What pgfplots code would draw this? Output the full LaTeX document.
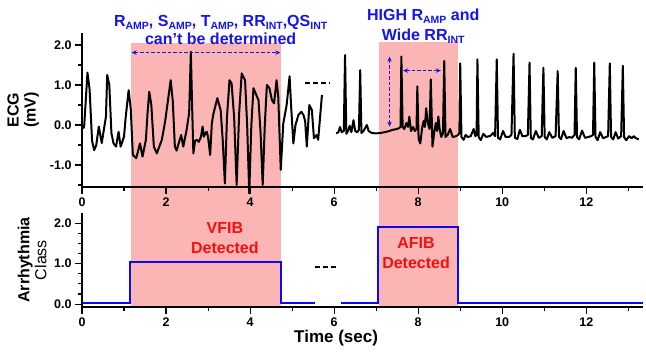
\documentclass[border=0pt]{standalone}
\usepackage{fontspec}
\setmainfont{Liberation Sans}
\usepackage{pgfplots}
\pgfplotsset{compat=1.18}
\usetikzlibrary{arrows.meta}
\definecolor{shade}{RGB}{252,181,181}
\definecolor{ablue}{RGB}{20,20,235}
\definecolor{ared}{RGB}{245,15,15}
\definecolor{lblue}{RGB}{10,10,240}
\newcommand\sub[1]{\raisebox{-0.35ex}{\fontsize{10.5}{10.5}\selectfont #1}}

\begin{document}
\begin{tikzpicture}
\useasboundingbox (-82pt,-176pt) rectangle (564pt,187pt);
\pgfplotsset{
 common/.style={scale only axis, width=561pt, xmin=0, xmax=13.35,
  axis lines=left, axis line style={line width=1.9pt, -},
  xtick={0,2,...,12}, minor xtick={1,3,...,13},
  tick style={black, line width=1.1pt}, major tick length=7pt, minor tick length=4pt,
  tick align=outside,
  tick label style={font=\fontsize{12.5}{13}\selectfont\bfseries},
  /pgf/number format/assume math mode=true,
  yticklabel style={/pgf/number format/.cd, fixed, fixed zerofill, precision=1},
  clip=false, axis on top},
}
% ---------------- top panel ----------------
\begin{axis}[common, at={(0,0)}, anchor=south west, height=154pt,
  ymin=-1.55, ymax=2.3,
  ytick={-1,0,1,2}, minor ytick={-1.5,-0.5,0.5,1.5},
  ylabel={ECG\\(mV)},
  ylabel style={at={(axis description cs:-0.105,0.5)}, anchor=center, align=center, font=\fontsize{16}{17}\selectfont\bfseries},
]
\addplot[fill=shade, draw=none] coordinates {(1.16,2.05) (4.74,2.05) (4.74,-2.25) (1.16,-2.25)};
\addplot[fill=shade, draw=none] coordinates {(7.06,2.07) (8.94,2.07) (8.94,-2.25) (7.06,-2.25)};
% ECG segment 1
\addplot[black, line width=2pt, line join=round] coordinates {
(0.01,-0.08) (0.05,-0.06) (0.13,1.31) (0.18,0.9) (0.24,-0.4) (0.29,-0.63) (0.34,-0.5) (0.40,-0.04)
(0.47,-0.45) (0.57,0.21) (0.60,1.25) (0.65,1.0) (0.70,-0.2) (0.75,-0.46) (0.81,-0.54) (0.87,-0.17)
(0.92,-0.54) (1.00,-0.29) (1.04,0.2) (1.11,0.87) (1.16,0.4) (1.21,-0.75) (1.29,-0.83) (1.38,-0.46)
(1.44,-0.79) (1.52,-0.37) (1.56,0.3) (1.60,0.83) (1.65,0.5) (1.71,-0.54) (1.78,-0.71) (1.90,-0.37)
(1.98,0.1) (2.11,1.12) (2.16,0.6) (2.21,-0.54) (2.25,-0.64) (2.36,-0.25) (2.41,-0.54) (2.49,-0.12)
(2.55,0.3) (2.59,1.83) (2.62,0.5) (2.65,-0.71) (2.69,-0.4) (2.73,-0.37) (2.78,-0.42) (2.83,-0.3)
(2.87,-0.04) (2.90,-0.29) (2.94,-0.2) (2.97,-0.17) (3.00,-0.3) (3.05,-0.75) (3.09,0.05) (3.13,0.29)
(3.22,0.67) (3.30,0.37) (3.35,-0.4) (3.40,-1.46) (3.45,0.2) (3.51,1.12) (3.56,1.04) (3.62,0.2)
(3.68,-1.5) (3.74,0.3) (3.80,1.29) (3.88,1.12) (3.93,0.0) (3.98,-1.71) (4.03,0.0) (4.08,0.92)
(4.20,0.62) (4.25,-0.2) (4.30,-1.5) (4.35,0.0) (4.40,1.0) (4.46,0.92) (4.52,0.62) (4.57,0.54)
(4.63,1.12) (4.67,0.71) (4.73,-1.12) (4.79,0.04) (4.87,0.5) (4.94,1.22) (4.98,0.4) (5.03,-0.46)
(5.08,0.0) (5.15,0.25) (5.22,0.33) (5.27,0.25) (5.31,0.1) (5.35,-0.54) (5.41,0.5) (5.47,0.37)
(5.52,-0.33) (5.58,-0.25) (5.62,-0.37) (5.71,0.75)
};
% ECG segment 2
\addplot[black, line width=2pt, line join=round] coordinates {
(6.05,-0.21) (6.10,-0.18) (6.14,-0.05) (6.18,-0.18) (6.23,-0.15) (6.26,1.75) (6.29,-0.22) (6.33,-0.15)
(6.37,-0.02) (6.41,-0.18) (6.46,0.12) (6.50,-0.15) (6.55,-0.18) (6.59,-0.12) (6.62,1.37) (6.65,-0.2)
(6.70,-0.15) (6.75,-0.05) (6.78,0.0) (6.82,-0.15) (6.90,-0.2) (7.00,-0.21) (7.10,-0.2) (7.25,-0.17)
(7.40,-0.12) (7.50,-0.1) (7.55,-0.07) (7.58,-0.05) (7.60,1.71) (7.63,-0.05) (7.67,-0.1) (7.72,0.05)
(7.76,-0.05) (7.79,0.21) (7.83,-0.15) (7.88,-0.05) (7.92,-0.15) (7.96,-0.1) (7.98,0.97) (8.01,-0.35)
(8.05,-0.46) (8.09,-0.1) (8.13,0.1) (8.16,-0.05) (8.19,0.42) (8.23,0.05) (8.27,-0.1) (8.30,1.14)
(8.34,-0.54) (8.38,-0.2) (8.42,0.05) (8.45,-0.15) (8.48,0.21) (8.51,-0.1) (8.55,-0.3) (8.59,-0.2)
(8.62,1.60) (8.65,-0.3) (8.70,-0.25) (8.76,-0.1) (8.82,-0.3) (8.90,-0.28) (8.95,-0.25) (8.98,-0.2)
(9.00,1.54) (9.03,-0.3) (9.08,-0.37) (9.13,-0.25) (9.18,-0.3) (9.25,-0.28) (9.32,-0.1) (9.36,-0.28)
(9.39,-0.25) (9.41,1.64) (9.44,-0.3) (9.49,-0.38) (9.55,-0.22) (9.62,-0.3) (9.72,-0.27) (9.78,-0.2)
(9.83,-0.28) (9.87,1.64) (9.90,-0.32) (9.95,-0.36) (10.02,-0.15) (10.08,-0.3) (10.16,-0.3) (10.22,-0.25)
(10.27,1.78) (10.30,-0.32) (10.36,-0.35) (10.42,-0.12) (10.48,-0.28) (10.55,-0.28) (10.61,-0.25) (10.65,1.56)
(10.68,-0.32) (10.73,-0.36) (10.80,-0.15) (10.87,-0.32) (10.94,-0.28) (10.98,1.43) (11.01,-0.3) (11.06,-0.36)
(11.12,-0.18) (11.19,-0.32) (11.27,-0.28) (11.32,1.35) (11.35,-0.3) (11.40,-0.35) (11.46,-0.15) (11.53,-0.33)
(11.60,-0.3) (11.66,-0.32) (11.72,-0.25) (11.75,1.43) (11.78,-0.3) (11.83,-0.36) (11.90,-0.14) (11.97,-0.32)
(12.05,-0.3) (12.11,-0.28) (12.16,-0.25) (12.19,1.56) (12.22,-0.3) (12.27,-0.38) (12.33,-0.18) (12.40,-0.33)
(12.47,-0.3) (12.52,-0.28) (12.56,1.54) (12.59,-0.3) (12.64,-0.36) (12.70,-0.18) (12.76,-0.34) (12.83,-0.28)
(12.87,1.48) (12.90,-0.3) (12.95,-0.38) (13.02,-0.28) (13.08,-0.33) (13.13,-0.28) (13.18,-0.33) (13.25,-0.36)
};
% annotations
\addplot[ablue, line width=1.4pt, dash pattern=on 3.5pt off 2pt, {Stealth[length=5pt,width=4.5pt]}-{Stealth[length=5pt,width=4.5pt]}] coordinates {(1.18,1.81) (4.72,1.81)};
\addplot[ablue, line width=1.4pt, dash pattern=on 3.5pt off 2pt, {Stealth[length=5pt,width=4.5pt]}-{Stealth[length=5pt,width=4.5pt]}] coordinates {(7.32,-0.04) (7.32,1.71)};
\addplot[ablue, line width=1.4pt, dash pattern=on 3.5pt off 2pt, {Stealth[length=5pt,width=4.5pt]}-{Stealth[length=5pt,width=4.5pt]}] coordinates {(7.64,1.36) (8.54,1.36)};
\addplot[black, line width=2pt, dash pattern=on 5pt off 3pt] coordinates {(5.31,1.05) (5.9,1.05)};
\node[ablue, font=\fontsize{16}{18}\selectfont\bfseries, align=center] at (axis cs:3.3,2.375)
  {R\sub{AMP}, S\sub{AMP}, T\sub{AMP}, RR\sub{INT},QS\sub{INT}\\can’t be determined};
\node[ablue, font=\fontsize{16}{20}\selectfont\bfseries, align=center] at (axis cs:8.12,2.46)
  {HIGH R\sub{AMP} and\\Wide RR\sub{INT}};
\end{axis}
% ---------------- bottom panel ----------------
\begin{axis}[common, at={(0,-120pt)}, anchor=south west, height=94pt,
  ymin=-0.07, ymax=2.25,
  ytick={0,1,2}, minor ytick={0.25,0.5,0.75,1.25,1.5,1.75},
  xlabel={Time (sec)},
  xlabel style={at={(axis description cs:0.453,0)}, anchor=north, yshift=-20pt, font=\fontsize{17}{18}\selectfont\bfseries},
  ylabel={\bfseries Arrhythmia\\Class},
  ylabel style={at={(axis description cs:-0.089,0.5)}, anchor=center, align=center, font=\fontsize{16}{17}\selectfont},
]
\addplot[fill=shade, draw=none] coordinates {(1.16,2.3) (4.74,2.3) (4.74,-0.07) (1.16,-0.07)};
\addplot[fill=shade, draw=none] coordinates {(7.06,2.3) (8.94,2.3) (8.94,-0.07) (7.06,-0.07)};
\addplot[lblue, line width=1.8pt, line join=miter] coordinates {(0,0.02) (1.15,0.02) (1.15,1.04) (4.73,1.04) (4.73,0.02) (5.55,0.02)};
\addplot[lblue, line width=1.8pt, line join=miter] coordinates {(6.16,0.02) (7.05,0.02) (7.05,1.9) (8.95,1.9) (8.95,0.02) (13.35,0.02)};
\addplot[black, line width=2pt, dash pattern=on 5pt off 3pt] coordinates {(5.55,0.91) (6.07,0.91)};
\node[ared, font=\fontsize{16}{20}\selectfont\bfseries, align=center] at (axis cs:3.4,1.63) {VFIB\\Detected};
\node[ared, font=\fontsize{16}{20}\selectfont\bfseries, align=center] at (axis cs:7.95,1.25) {AFIB\\Detected};
\end{axis}
\end{tikzpicture}
\end{document}
